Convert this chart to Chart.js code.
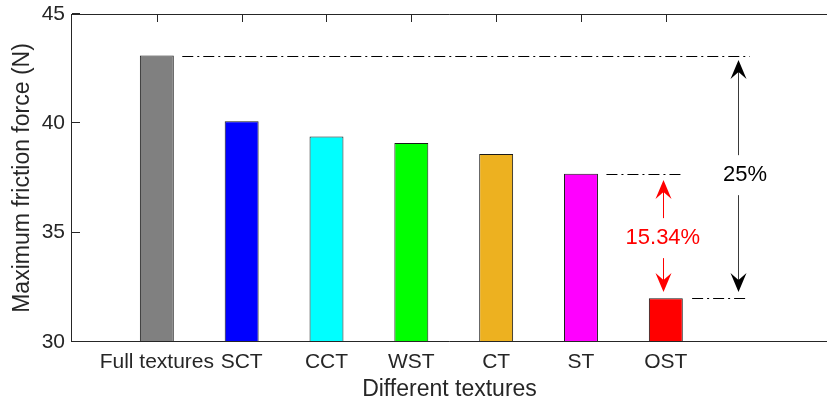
<!DOCTYPE html>
<html><head><meta charset="utf-8">
<script src="https://cdn.jsdelivr.net/npm/chart.js@4/dist/chart.umd.min.js"></script>
<style>html,body{margin:0;padding:0;background:#fff;overflow:hidden}#wrap{width:827px;height:403px}</style>
</head><body><div id="wrap"><canvas id="c" width="827" height="403"></canvas></div>
<script>
// ---- data ----
const categories = ['Full textures', 'SCT', 'CCT', 'WST', 'CT', 'ST', 'OST'];
const frictionForce = [43.1, 40.1, 39.4, 39.1, 38.6, 37.7, 32.0];
const barColors = ['#808080', '#0000FF', '#00FFFF', '#00FF00', '#EDB120', '#FF00FF', '#FF0000'];
const yTicks = [30, 35, 40, 45];
// ---- annotations (data units) ----
const refLineValues = [43.1, 37.7, 32.0];
const refLineStarts = [1.30, 6.30, 7.31];
const refLineEnds = [7.99, 7.20, 7.97];
const arrowLabels = ['25%', '15.34%'];
const arrowX = [7.85, 6.97];
const arrowTop = [42.9, 37.41];
const arrowBottom = [32.29, 32.29];
const labelX = [7.935, 6.965];
const labelY = [37.63, 34.75];
const arrowColors = ['#000000', '#FF0000'];

const FONT = "'Liberation Sans', Arial, Helvetica, sans-serif";
const AXIS = '#262626';

function arrowHead(ctx, tx, ty, dir) {
  const L = 19, W = 8, N = 12;
  ctx.beginPath();
  ctx.moveTo(tx, ty);
  ctx.lineTo(tx - W, ty - dir * L);
  ctx.lineTo(tx, ty - dir * N);
  ctx.lineTo(tx + W, ty - dir * L);
  ctx.closePath();
  ctx.fill();
}

const framePlugin = {
  id: 'frame',
  beforeDatasetsDraw(chart) {
    const {ctx, chartArea: a, scales: {x, y}} = chart;
    ctx.save();
    ctx.strokeStyle = AXIS; ctx.lineWidth = 1; ctx.beginPath();
    yTicks.forEach(v => {
      const py = Math.round(y.getPixelForValue(v)) - 0.5;
      ctx.moveTo(a.left, py); ctx.lineTo(a.left + 8, py);
    });
    categories.forEach((c, i) => {
      const px = Math.round(x.getPixelForValue(i + 1)) + 0.5;
      ctx.moveTo(px, a.top); ctx.lineTo(px, a.top + 8);
      ctx.moveTo(px, a.bottom); ctx.lineTo(px, a.bottom - 8);
    });
    ctx.stroke(); ctx.restore();
  },
  afterDatasetsDraw(chart) {
    const {ctx, chartArea: a, scales: {x, y}} = chart;
    ctx.save();
    // axis lines
    ctx.strokeStyle = AXIS; ctx.lineWidth = 1; ctx.beginPath();
    ctx.moveTo(a.left - 0.5, a.top + 0.5); ctx.lineTo(a.right, a.top + 0.5);
    ctx.moveTo(a.left - 0.5, a.top); ctx.lineTo(a.left - 0.5, a.bottom);
    ctx.moveTo(a.left - 0.5, a.bottom - 0.5); ctx.lineTo(a.right, a.bottom - 0.5);
    ctx.stroke();
    // dash-dot reference lines
    ctx.strokeStyle = '#000'; ctx.setLineDash([11, 4, 2, 4]);
    refLineValues.forEach((v, i) => {
      const py = Math.round(y.getPixelForValue(v)) + 0.5;
      ctx.beginPath();
      ctx.moveTo(x.getPixelForValue(refLineStarts[i]), py);
      ctx.lineTo(x.getPixelForValue(refLineEnds[i]), py);
      ctx.stroke();
    });
    ctx.setLineDash([]);
    // arrows with labels
    arrowLabels.forEach((lab, i) => {
      const px = Math.round(x.getPixelForValue(arrowX[i])) + 0.5;
      const t = y.getPixelForValue(arrowTop[i]);
      const b = y.getPixelForValue(arrowBottom[i]);
      const ly = y.getPixelForValue(labelY[i]);
      ctx.strokeStyle = i === 0 ? '#3a3a3a' : arrowColors[i];
      ctx.fillStyle = arrowColors[i];
      ctx.beginPath();
      ctx.moveTo(px, t + 10); ctx.lineTo(px, ly - 20);
      ctx.moveTo(px, ly + 20); ctx.lineTo(px, b - 10);
      ctx.stroke();
      arrowHead(ctx, px, t, -1);
      arrowHead(ctx, px, b, 1);
      ctx.font = '22px ' + FONT;
      ctx.textAlign = 'center'; ctx.textBaseline = 'middle';
      ctx.fillText(lab, x.getPixelForValue(labelX[i]), ly);
    });
    ctx.restore();
  }
};

function zeroPad(s) { s.paddingTop = 0; s.paddingBottom = 0; s.paddingLeft = 0; s.paddingRight = 0; }

new Chart(document.getElementById('c').getContext('2d'), {
  type: 'bar',
  data: {
    datasets: [{
      data: categories.map((c, i) => ({x: i + 1, y: frictionForce[i]})),
      backgroundColor: barColors,
      borderColor: '#1a1a1a',
      borderWidth: 1,
      barPercentage: 0.5,
      categoryPercentage: 0.8
    }]
  },
  options: {
    responsive: false, animation: false, devicePixelRatio: 1,
    layout: {padding: {top: 14, right: 0, left: 0, bottom: 0}},
    plugins: {legend: {display: false}, tooltip: {enabled: false}},
    scales: {
      x: {
        type: 'linear', min: 0, max: 8.9, offset: false,
        afterBuildTicks: s => { s.ticks = categories.map((c, i) => ({value: i + 1})); },
        ticks: {
          callback: v => categories[Math.round(v) - 1],
          autoSkip: false, maxRotation: 0, minRotation: 0, padding: 8,
          color: AXIS, font: {family: FONT, size: 21}
        },
        grid: {display: false, drawTicks: false},
        border: {display: false},
        title: {display: true, text: 'Different textures', color: AXIS,
                font: {family: FONT, size: 23}, padding: {top: 0, bottom: 0}},
        afterFit: s => { s.height = 61; zeroPad(s); }
      },
      y: {
        min: 30, max: 45, beginAtZero: false,
        afterBuildTicks: s => { s.ticks = yTicks.map(v => ({value: v})); },
        ticks: {padding: 7, color: AXIS, font: {family: FONT, size: 21}},
        grid: {display: false, drawTicks: false},
        border: {display: false},
        title: {display: true, text: 'Maximum friction force (N)', color: AXIS,
                font: {family: FONT, size: 23}, padding: {top: 9, bottom: 0}},
        afterFit: s => { s.width = 72; zeroPad(s); }
      }
    }
  },
  plugins: [framePlugin]
});
</script>
</body></html>
